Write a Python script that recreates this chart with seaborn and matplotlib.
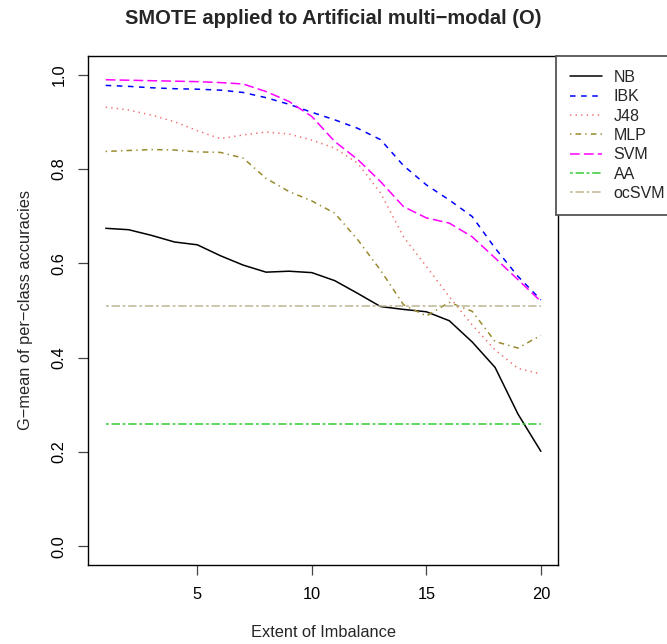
import matplotlib
matplotlib.use("Agg")
import matplotlib.pyplot as plt
import seaborn as sns
import pandas as pd

imbalance = list(range(1, 21))
nb = [0.674, 0.671, 0.659, 0.645, 0.639, 0.616, 0.596, 0.581, 0.583, 0.580,
      0.563, 0.536, 0.508, 0.502, 0.497, 0.478, 0.433, 0.379, 0.280, 0.201]
ibk = [0.977, 0.975, 0.972, 0.970, 0.969, 0.967, 0.962, 0.951, 0.937, 0.920,
       0.904, 0.886, 0.862, 0.807, 0.766, 0.734, 0.699, 0.632, 0.572, 0.522]
j48 = [0.931, 0.925, 0.914, 0.900, 0.881, 0.864, 0.872, 0.878, 0.874, 0.861,
       0.844, 0.812, 0.749, 0.656, 0.593, 0.529, 0.469, 0.416, 0.377, 0.365]
mlp = [0.837, 0.839, 0.841, 0.840, 0.836, 0.835, 0.823, 0.780, 0.752, 0.732,
       0.706, 0.650, 0.585, 0.512, 0.488, 0.517, 0.498, 0.434, 0.420, 0.447]
svm = [0.989, 0.988, 0.987, 0.986, 0.985, 0.983, 0.980, 0.964, 0.943, 0.911,
       0.858, 0.820, 0.773, 0.720, 0.696, 0.685, 0.656, 0.611, 0.565, 0.519]
aa = [0.259] * 20
ocsvm = [0.510] * 20

series_names = ["NB", "IBK", "J48", "MLP", "SVM", "AA", "ocSVM"]
series_values = [nb, ibk, j48, mlp, svm, aa, ocsvm]
series_colors = ["#000000", "#0000FF", "#F07070", "#9A8A2E", "#FF00FF", "#33CC33", "#BDB593"]
series_dashes = [None, (4, 4), (1, 3), (1, 3, 4, 3), (7, 3), (2, 2, 6, 2), (2, 2, 6, 2)]

x_ticks = [5, 10, 15, 20]
y_ticks = [0.0, 0.2, 0.4, 0.6, 0.8, 1.0]
y_tick_labels = ["0.0", "0.2", "0.4", "0.6", "0.8", "1.0"]

sns.set_theme(style="white")
plt.rcParams["font.family"] = ["Liberation Sans", "DejaVu Sans"]
plt.rcParams["lines.scale_dashes"] = False

fig = plt.figure(figsize=(6.67, 6.44), dpi=100)
ax = fig.add_axes([88.3 / 667, 1 - 565 / 644, (558.3 - 88.3) / 667, (565 - 55.7) / 644])

for name, vals, col, dash in zip(series_names, series_values, series_colors, series_dashes):
    df = pd.DataFrame({"x": imbalance, "y": vals})
    ls = "-" if dash is None else (0, dash)
    sns.lineplot(data=df, x="x", y="y", ax=ax, color=col, linestyle=ls,
                 linewidth=1.1, label=name)

ax.set_xlim(0.24, 20.76)
ax.set_ylim(-0.04, 1.04)
ax.set_xticks(x_ticks)
ax.set_xticklabels([str(t) for t in x_ticks])
ax.set_yticks(y_ticks)
ax.set_yticklabels(y_tick_labels, rotation=90, va="center")
for sp in ax.spines.values():
    sp.set_color("black")
    sp.set_linewidth(1.0)
ax.tick_params(axis="both", direction="out", length=7.2, width=0.9, color="#444444",
               labelsize=11.8, labelcolor="black", bottom=True, left=True)
ax.tick_params(axis="x", pad=8.5)
ax.tick_params(axis="y", pad=8.5)

ax.set_xlabel("Extent of Imbalance", fontsize=11.8, labelpad=16.5)
ax.set_ylabel("G\u2212mean of per\u2212class accuracies", fontsize=11.8, labelpad=13)

fig.text(0.5, 1 - 24 / 644, "SMOTE applied to Artificial multi\u2212modal (O)",
         ha="center", va="baseline", fontsize=14.5, fontweight="bold")

leg = ax.legend(loc="upper left", bbox_to_anchor=((556 - 88.3) / (558.3 - 88.3), 1.0),
                borderaxespad=0, frameon=True, fancybox=False, fontsize=11.5,
                handlelength=1.95, handletextpad=0.75, borderpad=0.9,
                labelspacing=0.27)
leg.get_frame().set_edgecolor("#555555")
leg.get_frame().set_linewidth(1.3)
leg.get_frame().set_alpha(1)
leg.set_clip_on(False)

fig.savefig("out.png", dpi=100)
